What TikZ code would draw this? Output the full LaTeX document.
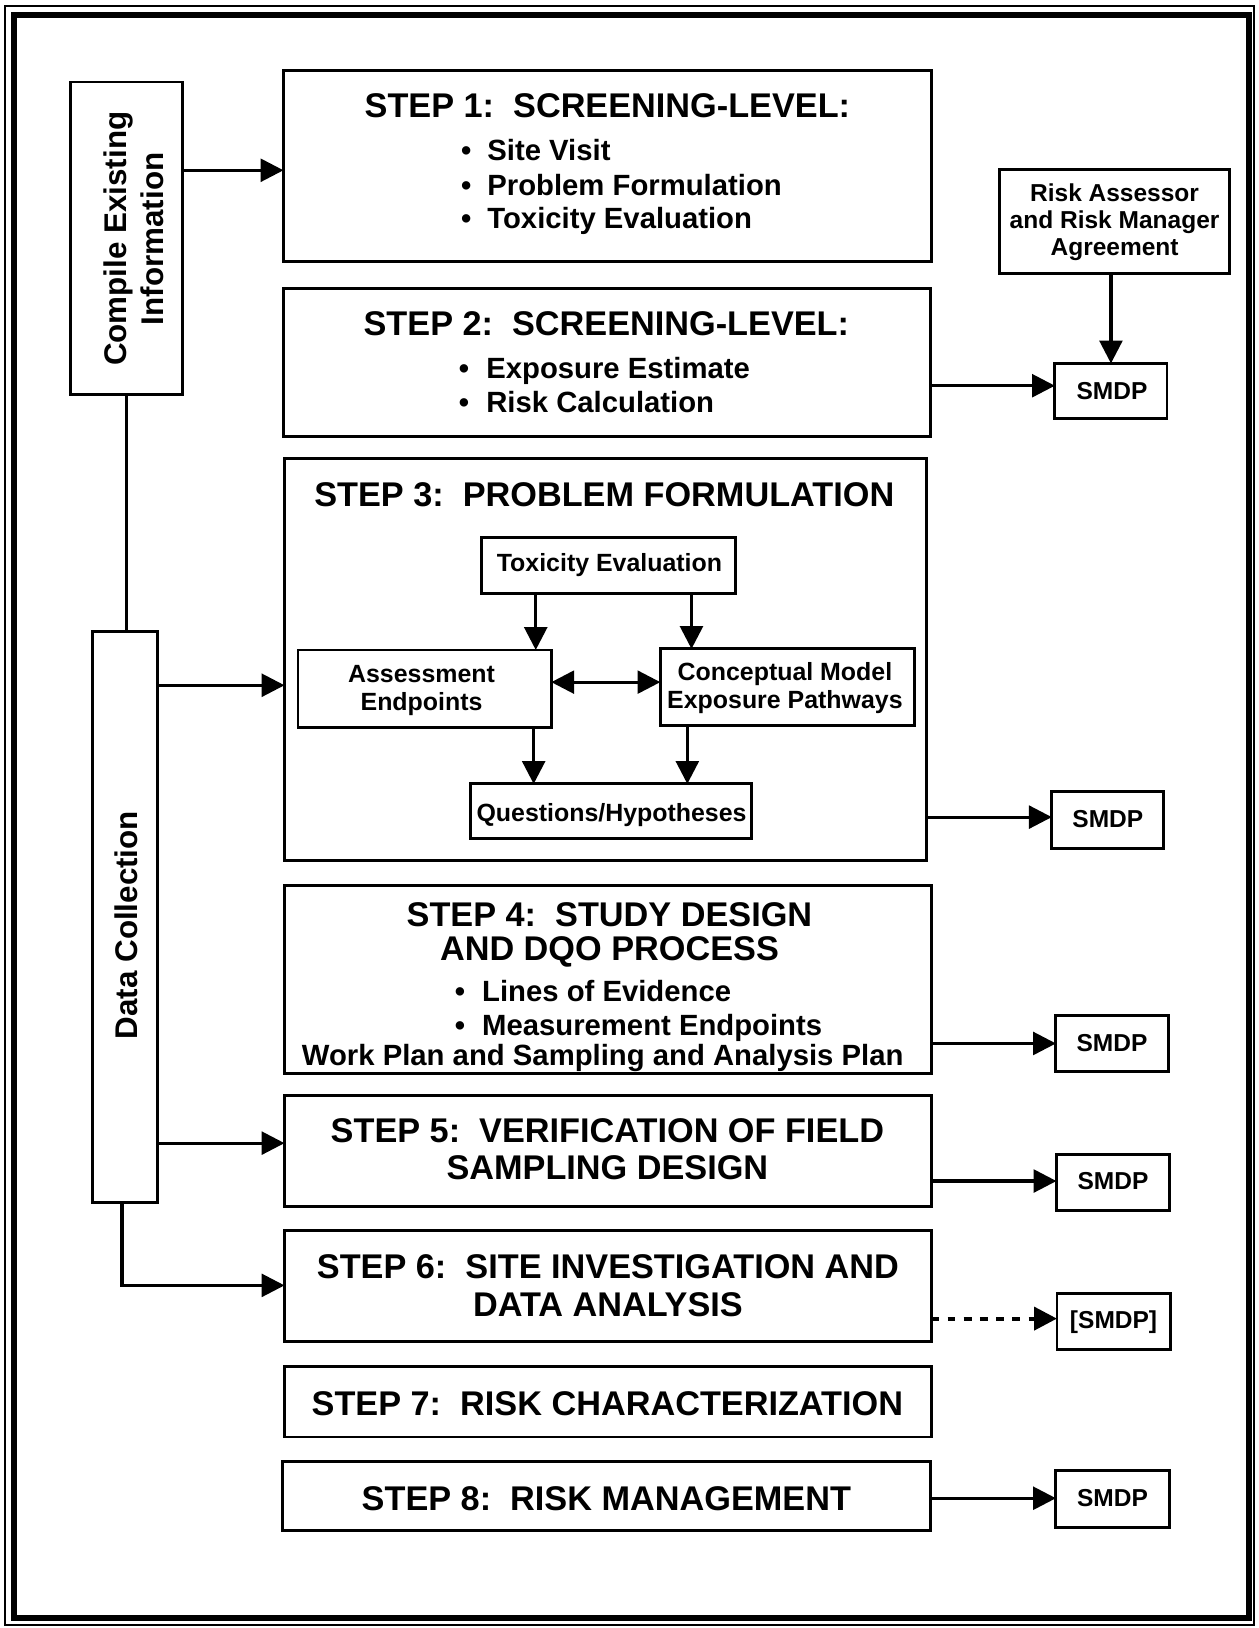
\documentclass[tikz,border=0pt]{standalone}
\usepackage{fontspec}
\setmainfont{Liberation Sans}
\usetikzlibrary{arrows.meta,fit}

% type sizes
\newcommand\fTitle{\fontsize{16.5pt}{19pt}\selectfont\bfseries}
\newcommand\fList{\fontsize{14.1pt}{17pt}\selectfont\bfseries}
\newcommand\fSide{\fontsize{15.1pt}{18pt}\selectfont\bfseries}
\newcommand\fSmall{\fontsize{11.8pt}{14pt}\selectfont\bfseries}
\newcommand\fInner{\fontsize{12pt}{14pt}\selectfont\bfseries}

\tikzset{
  box/.style={draw, line width=1.4pt, inner sep=0pt, outer sep=0pt},
  txt/.style={inner sep=0pt, anchor=base},
  arr/.style={line width=1.5pt, -{Triangle[length=11pt,width=11pt]}},
  darr/.style={line width=1.5pt, {Triangle[length=11pt,width=11pt]}-{Triangle[length=11pt,width=11pt]}},
  dotarr/.style={line width=2pt, dash pattern=on 3.8pt off 4pt, -{Triangle[length=11pt,width=11pt]}},
  plain/.style={line width=1.5pt}
}

\begin{document}
\begin{tikzpicture}[x=0.5pt,y=-0.5pt]
\fill[white] (0,0) rectangle (1212,1568);
\useasboundingbox (0,0) rectangle (1212,1568);

% double page frame
\draw[line width=1pt] (4.8,5.8) rectangle (1208,1565.5);
\draw[line width=2.9pt] (13.5,14) rectangle (1203,1558);

% left-hand columns
\node[box, fit={(68,79) (176,380)}] (cmp) {};
\node[box, fit={(89,608) (152,1158)}] (dc) {};
\node[txt, rotate=90] (cmpA) at (121.4,230) {\fSide Compile Existing};
\node[txt, rotate=90] (cmpB) at (157,230) {\fSide Information};
\node[txt, rotate=90] (dct) at (132,891) {\fSide Data Collection};

% step boxes
\node[box, fit={(273,68) (897,252)}] (s1) {};
\node[box, fit={(273,278) (896,420)}] (s2) {};
\node[box, fit={(274,442) (892.5,828.5)}] (s3) {};
\node[box, fit={(274,853) (897,1034)}] (s4) {};
\node[box, fit={(274,1055) (897,1162)}] (s5) {};
\node[box, fit={(274,1185) (897,1292)}] (s6) {};
\node[box, fit={(274,1316) (897,1384)}] (s7) {};
\node[box, fit={(272,1408) (896,1474)}] (s8) {};

% step 1
\node[txt] (t1) at (585,113) {\fTitle STEP 1:\ \ SCREENING-LEVEL:};
\node[txt] (b1a) at (449,155) {\fList •};
\node[txt] (b1b) at (449,188) {\fList •};
\node[txt] (b1c) at (449,220) {\fList •};
\node[txt, anchor=base west] (l1a) at (469,155) {\fList Site Visit};
\node[txt, anchor=base west] (l1b) at (469,188) {\fList Problem Formulation};
\node[txt, anchor=base west] (l1c) at (469,220) {\fList Toxicity Evaluation};

% step 2
\node[txt] (t2) at (584,323) {\fTitle STEP 2:\ \ SCREENING-LEVEL:};
\node[txt] (b2a) at (447,365) {\fList •};
\node[txt] (b2b) at (447,397) {\fList •};
\node[txt, anchor=base west] (l2a) at (468,365) {\fList Exposure Estimate};
\node[txt, anchor=base west] (l2b) at (468,397) {\fList Risk Calculation};

% step 3 with its inner diagram
\node[txt] (t3) at (582,488) {\fTitle STEP 3:\ \ PROBLEM FORMULATION};
\node[box, fit={(464,518) (708,572)}] (tox) {};
\node[box, fit={(287,626) (531,701)}] (ae) {};
\node[box, fit={(636,625) (881,699)}] (cm) {};
\node[box, fit={(453,755) (724,808)}] (qh) {};
\node[txt] (toxt) at (587,550.5) {\fInner Toxicity Evaluation};
\node[txt] (aet1) at (406,657.5) {\fInner Assessment};
\node[txt] (aet2) at (406,684.5) {\fInner Endpoints};
\node[txt] (cmt1) at (756,655.5) {\fInner Conceptual Model};
\node[txt] (cmt2) at (756,682.5) {\fInner Exposure Pathways};
\node[txt] (qht) at (589,791.5) {\fInner Questions/Hypotheses};

\coordinate (xa) at (516,0);
\coordinate (xb) at (666,0);
\coordinate (xc) at (514,0);
\coordinate (xd) at (662,0);
\coordinate (ymid) at (0,657);
\draw[arr] (tox.south -| xa) -- (ae.north -| xa);
\draw[arr] (tox.south -| xb) -- (cm.north -| xb);
\draw[darr] (ae.east |- ymid) -- (cm.west |- ymid);
\draw[arr] (ae.south -| xc) -- (qh.north -| xc);
\draw[arr] (cm.south -| xd) -- (qh.north -| xd);

% step 4
\node[txt] (t4a) at (587,892) {\fTitle STEP 4:\ \ STUDY DESIGN};
\node[txt] (t4b) at (587,925) {\fTitle AND DQO PROCESS};
\node[txt] (b4a) at (443,965) {\fList •};
\node[txt] (b4b) at (443,997) {\fList •};
\node[txt, anchor=base west] (l4a) at (464,965) {\fList Lines of Evidence};
\node[txt, anchor=base west] (l4b) at (464,997) {\fList Measurement Endpoints};
\node[txt] (l4c) at (580.5,1026) {\fList Work Plan and Sampling and Analysis Plan};

% steps 5 to 8
\node[txt] (t5a) at (585,1100) {\fTitle STEP 5:\ \ VERIFICATION OF FIELD};
\node[txt] (t5b) at (585,1136) {\fTitle SAMPLING DESIGN};
\node[txt] (t6a) at (585.5,1231) {\fTitle STEP 6:\ \ SITE INVESTIGATION AND};
\node[txt] (t6b) at (585.5,1268) {\fTitle DATA ANALYSIS};
\node[txt] (t7) at (585,1363) {\fTitle STEP 7:\ \ RISK CHARACTERIZATION};
\node[txt] (t8) at (584,1455) {\fTitle STEP 8:\ \ RISK MANAGEMENT};

% right-hand column
\node[box, fit={(963,163) (1184,263)}] (risk) {};
\node[txt] (rk1) at (1073.5,194) {\fSmall Risk Assessor};
\node[txt] (rk2) at (1073.5,220) {\fSmall and Risk Manager};
\node[txt] (rk3) at (1073.5,246) {\fSmall Agreement};

\node[box, fit={(1016,350) (1124,403)}] (m1) {};
\node[box, fit={(1013,762.5) (1121,817)}] (m3) {};
\node[box, fit={(1017,978) (1125,1032)}] (m4) {};
\node[box, fit={(1017.5,1112) (1126,1166)}] (m5) {};
\node[box, fit={(1018,1245.5) (1127,1300)}] (m6) {};
\node[box, fit={(1017,1416) (1126,1471)}] (m8) {};
\node[txt] (m1t) at (1071,384.5) {\fSmall SMDP};
\node[txt] (m3t) at (1067,797) {\fSmall SMDP};
\node[txt] (m4t) at (1071,1013) {\fSmall SMDP};
\node[txt] (m5t) at (1072,1146) {\fSmall SMDP};
\node[txt] (m6t) at (1072.5,1280) {\fSmall [SMDP]};
\node[txt] (m8t) at (1071.5,1451) {\fSmall SMDP};

% connectors
\coordinate (y1) at (0,164);
\coordinate (y3) at (0,660);
\coordinate (y5) at (0,1101);
\coordinate (y6) at (0,1238);
\draw[arr] (cmp.east |- y1) -- (s1.west |- y1);
\draw[plain] (cmp.south) -- (cmp.south |- dc.north);
\draw[arr] (dc.east |- y3) -- (s3.west |- y3);
\draw[arr] (dc.east |- y5) -- (s5.west |- y5);
\draw[arr] ([xshift=-1.5pt]dc.south) |- (s6.west |- y6);

\coordinate (r1) at (0,371.5);
\coordinate (r3) at (0,787);
\coordinate (r4) at (0,1005);
\coordinate (r5) at (0,1137.5);
\coordinate (r6) at (0,1270);
\coordinate (r8) at (0,1443);
\draw[arr] (risk.south -| m1.north) -- (m1.north);
\draw[arr] (s2.east |- r1) -- (m1.west |- r1);
\draw[arr] (s3.east |- r3) -- (m3.west |- r3);
\draw[arr] (s4.east |- r4) -- (m4.west |- r4);
\draw[arr] (s5.east |- r5) -- (m5.west |- r5);
\draw[dotarr] (s6.east |- r6) -- (m6.west |- r6);
\draw[arr] (s8.east |- r8) -- (m8.west |- r8);
\end{tikzpicture}
\end{document}
